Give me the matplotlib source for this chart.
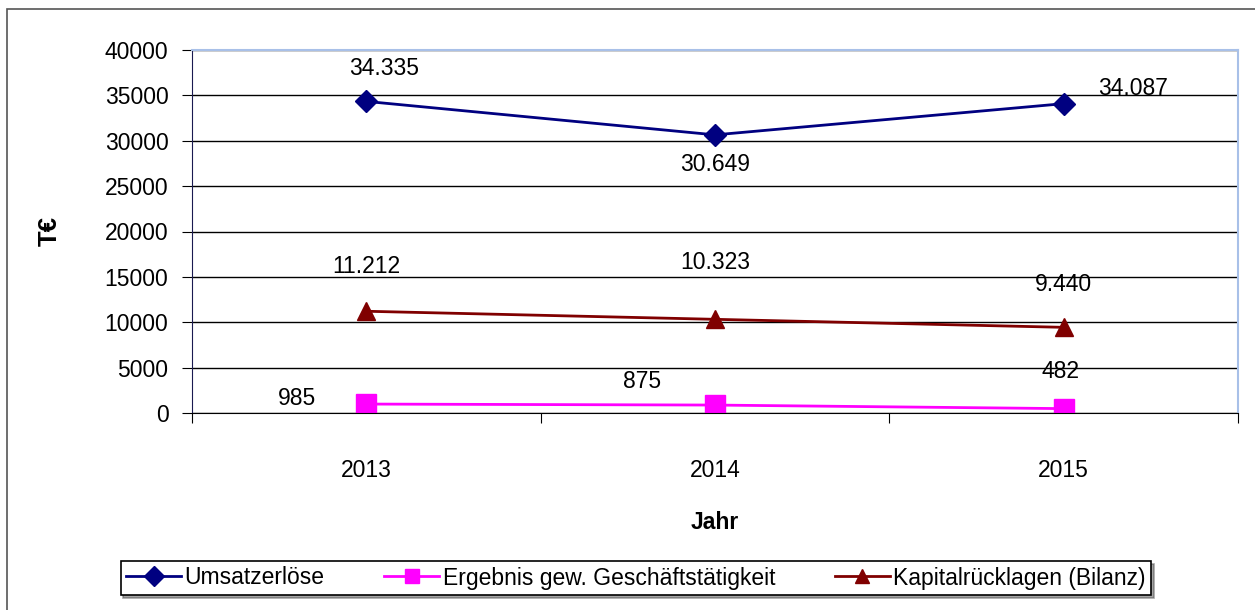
import numpy as np
import matplotlib
matplotlib.use("Agg")
from matplotlib import pyplot as plt
from matplotlib.patches import Rectangle

plt.rcParams['font.family'] = ['Liberation Sans', 'DejaVu Sans']

jahre = ['2013', '2014', '2015']
umsatz = [34335, 30649, 34087]
ergebnis = [985, 875, 482]
kapital = [11212, 10323, 9440]

umsatz_txt = ['34.335', '30.649', '34.087']
ergebnis_txt = ['985', '875', '482']
kapital_txt = ['11.212', '10.323', '9.440']

fig = plt.figure(figsize=(12.55, 6.1), dpi=100)
fig.patches.append(Rectangle((7/1255, -0.1), 1.1, 1 - 9/610 + 0.1, transform=fig.transFigure,
                             fill=False, edgecolor='#555555', linewidth=1.2))

ax = fig.add_axes([192/1255, 1 - 413/610, (1238 - 192)/1255, (413 - 50)/610])
x = np.arange(len(jahre))

ax.plot(x, umsatz, color='#000080', marker='D', markersize=11, linewidth=2, label='Umsatzerlöse')
ax.plot(x, ergebnis, color='#FF00FF', marker='s', markersize=14, linewidth=2,
        label='Ergebnis gew. Geschäftstätigkeit')
ax.plot(x, kapital, color='#800000', marker='^', markersize=13, linewidth=2,
        label='Kapitalrücklagen (Bilanz)')

fs = 16.5
# Datenbeschriftungen
off_u = [(0.05, 3600), (0, -3300), (0.2, 1700)]
for i, (t, o) in enumerate(zip(umsatz_txt, off_u)):
    ax.text(x[i] + o[0], umsatz[i] + o[1], t, fontsize=fs, ha='center', va='center')
off_k = [(0, 4900), (0, 6300), (0, 4700)]
for i, (t, o) in enumerate(zip(kapital_txt, off_k)):
    ax.text(x[i] + o[0], kapital[i] + o[1], t, fontsize=fs, ha='center', va='center')
off_e = [(-0.2, 600), (-0.21, 2600), (-0.01, 4100)]
for i, (t, o) in enumerate(zip(ergebnis_txt, off_e)):
    ax.text(x[i] + o[0], ergebnis[i] + o[1], t, fontsize=fs, ha='center', va='center')

ax.set_xlim(-0.5, 2.5)
ax.set_ylim(0, 40000)
ax.set_yticks(np.arange(0, 40001, 5000))
ax.set_yticklabels([str(v) for v in range(0, 40001, 5000)], fontsize=fs)
ax.yaxis.grid(True, color='black', linewidth=1)
ax.set_axisbelow(True)

ax.set_xticks([-0.5, 0.5, 1.5, 2.5])
ax.set_xticklabels([])
ax.set_xticks(x, minor=True)
ax.set_xticklabels(jahre, minor=True, fontsize=fs)
ax.tick_params(axis='x', which='minor', length=0, pad=33)
ax.tick_params(axis='x', which='major', length=7, direction='out', color='black')
ax.tick_params(axis='y', length=7, direction='out', pad=10)

for s in ['top', 'right']:
    ax.spines[s].set_color('#a8c0e8')
    ax.spines[s].set_linewidth(1.5)
ax.spines['left'].set_color('#1a1a50')
ax.spines['bottom'].set_color('black')

ax.set_ylabel('T€', fontsize=fs + 2, fontweight='bold', labelpad=31)
ax.set_xlabel('Jahr', fontsize=fs, fontweight='bold', labelpad=21)

leg = fig.legend(loc='center', bbox_to_anchor=(636/1255, 1 - 578/610), ncol=3, fontsize=fs,
                 frameon=True, fancybox=False, shadow=True, edgecolor='black',
                 handlelength=2.4, columnspacing=2.6, handletextpad=0.15, borderpad=0.25)
leg.get_frame().set_linewidth(1.2)
for h in leg.legend_handles:
    h.set_markersize(10)

fig.savefig('out.png', dpi=100)
